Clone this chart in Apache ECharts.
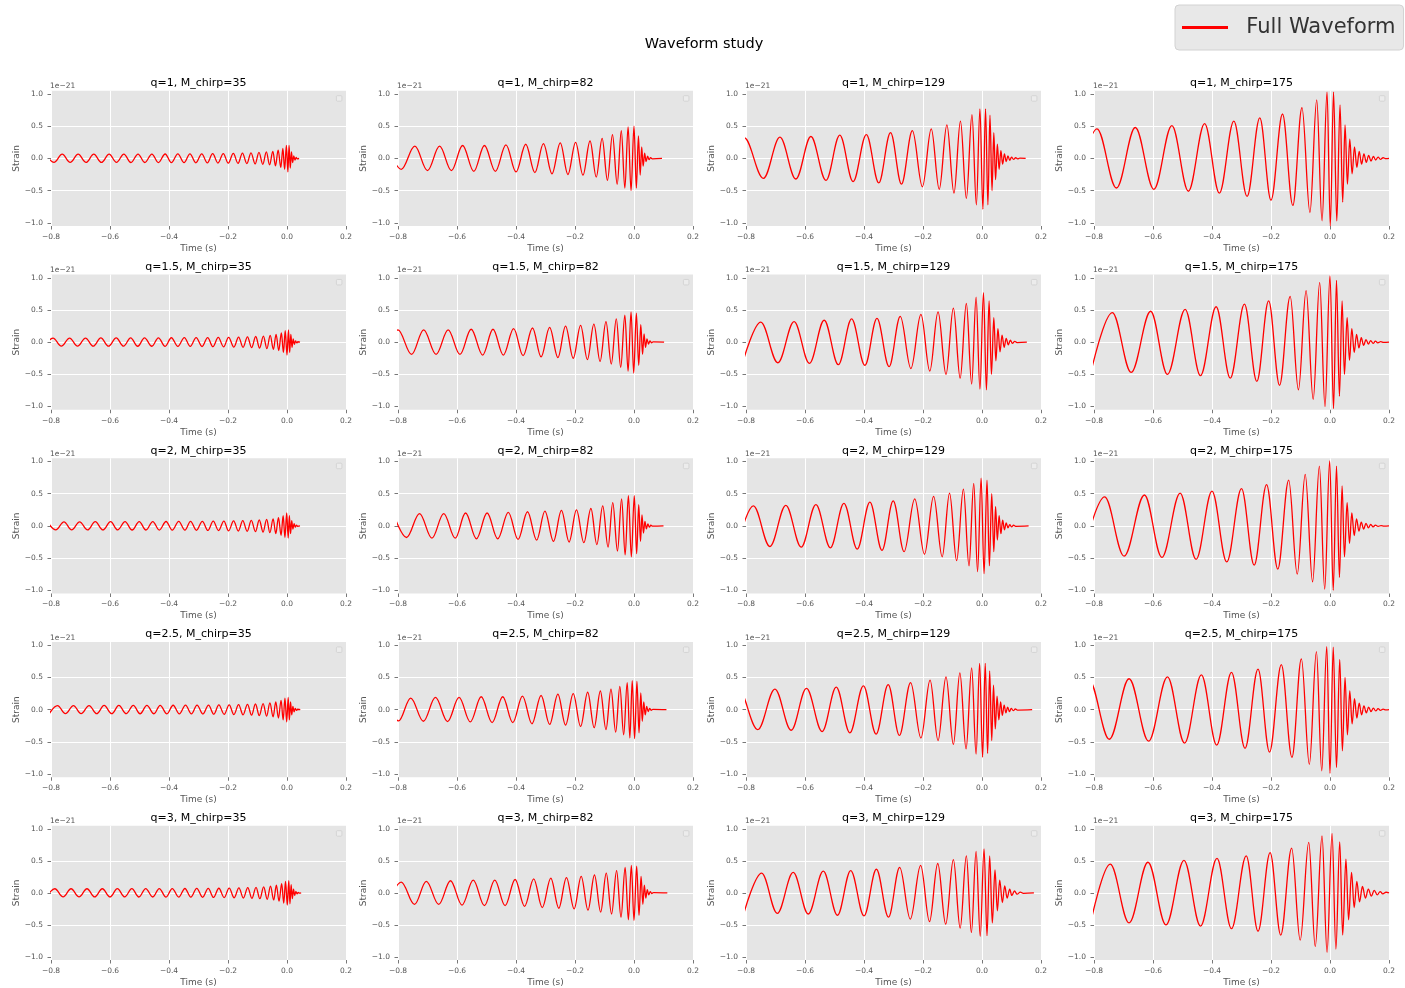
<!DOCTYPE html>
<html><head><meta charset="utf-8">
<script src="https://cdn.jsdelivr.net/npm/echarts@6/dist/echarts.min.js"></script>
<style>html,body{margin:0;padding:0;background:#fff}#c{width:1405px;height:988px}</style>
</head><body><div id="c"></div>
<script>
const qValues = ['1', '1.5', '2', '2.5', '3'];
const mChirps = ['35', '82', '129', '175'];
const xTicks = [-0.8, -0.6, -0.4, -0.2, 0.0, 0.2];
const yTicks = [-1.0, -0.5, 0.0, 0.5, 1.0];

// waveform extrema: [time (s), strain (1e-21)]
const w_q1_m35 = [[-0.818,0.065],[-0.790,-0.062],[-0.762,0.065],[-0.735,-0.062],[-0.708,0.065],[-0.681,-0.062],[-0.655,0.065],[-0.629,-0.063],[-0.603,0.066],[-0.578,-0.063],[-0.553,0.066],[-0.529,-0.064],[-0.505,0.067],[-0.482,-0.064],[-0.458,0.067],[-0.436,-0.065],[-0.413,0.068],[-0.392,-0.066],[-0.370,0.069],[-0.349,-0.067],[-0.329,0.070],[-0.309,-0.068],[-0.289,0.071],[-0.270,-0.070],[-0.252,0.073],[-0.234,-0.072],[-0.216,0.075],[-0.199,-0.074],[-0.182,0.078],[-0.166,-0.077],[-0.151,0.082],[-0.136,-0.081],[-0.122,0.087],[-0.108,-0.086],[-0.095,0.093],[-0.082,-0.093],[-0.070,0.10],[-0.059,-0.10],[-0.048,0.11],[-0.039,-0.115],[-0.030,0.13],[-0.021,-0.14],[-0.014,0.155],[-0.008,-0.17],[-0.002,0.20],[0.003,-0.21],[0.007,0.20],[0.011,-0.15],[0.015,0.10],[0.019,-0.065],[0.023,0.04],[0.027,-0.025],[0.031,0.015],[0.035,-0.008],[0.041,0]];
const w_q15_m35 = [[-0.821,-0.062],[-0.793,0.064],[-0.765,-0.062],[-0.737,0.064],[-0.710,-0.062],[-0.683,0.064],[-0.657,-0.063],[-0.631,0.065],[-0.605,-0.063],[-0.579,0.065],[-0.554,-0.063],[-0.530,0.066],[-0.506,-0.064],[-0.483,0.066],[-0.458,-0.064],[-0.436,0.067],[-0.413,-0.065],[-0.392,0.068],[-0.370,-0.066],[-0.348,0.069],[-0.328,-0.067],[-0.308,0.070],[-0.288,-0.069],[-0.269,0.071],[-0.251,-0.071],[-0.233,0.073],[-0.215,-0.073],[-0.198,0.075],[-0.180,-0.076],[-0.164,0.079],[-0.149,-0.080],[-0.134,0.083],[-0.120,-0.085],[-0.106,0.088],[-0.093,-0.091],[-0.080,0.095],[-0.068,-0.10],[-0.057,0.105],[-0.046,-0.11],[-0.037,0.12],[-0.028,-0.13],[-0.019,0.145],[-0.012,-0.16],[-0.006,0.18],[0.000,-0.20],[0.005,0.19],[0.009,-0.16],[0.013,0.12],[0.017,-0.08],[0.021,0.05],[0.025,-0.035],[0.029,0.02],[0.033,-0.012],[0.037,0.006],[0.044,0]];
const w_q2_m35 = [[-0.812,0.064],[-0.784,-0.062],[-0.756,0.064],[-0.730,-0.062],[-0.703,0.064],[-0.676,-0.062],[-0.650,0.065],[-0.624,-0.063],[-0.598,0.065],[-0.574,-0.063],[-0.549,0.066],[-0.525,-0.064],[-0.501,0.066],[-0.478,-0.064],[-0.455,0.067],[-0.433,-0.065],[-0.410,0.068],[-0.389,-0.066],[-0.367,0.069],[-0.346,-0.067],[-0.327,0.070],[-0.307,-0.069],[-0.287,0.071],[-0.268,-0.071],[-0.250,0.073],[-0.232,-0.073],[-0.214,0.075],[-0.198,-0.076],[-0.181,0.078],[-0.165,-0.079],[-0.150,0.082],[-0.135,-0.083],[-0.121,0.086],[-0.107,-0.088],[-0.094,0.092],[-0.081,-0.095],[-0.069,0.10],[-0.058,-0.105],[-0.047,0.11],[-0.038,-0.12],[-0.029,0.13],[-0.020,-0.145],[-0.013,0.16],[-0.007,-0.18],[-0.001,0.20],[0.004,-0.19],[0.008,0.16],[0.012,-0.12],[0.016,0.08],[0.020,-0.05],[0.024,0.035],[0.028,-0.02],[0.032,0.012],[0.036,-0.006],[0.044,0]];
const w_q25_m35 = [[-0.806,-0.062],[-0.778,0.064],[-0.751,-0.062],[-0.724,0.064],[-0.698,-0.062],[-0.671,0.064],[-0.645,-0.063],[-0.620,0.065],[-0.594,-0.063],[-0.570,0.065],[-0.545,-0.063],[-0.521,0.066],[-0.498,-0.064],[-0.475,0.066],[-0.451,-0.064],[-0.430,0.067],[-0.407,-0.065],[-0.386,0.068],[-0.365,-0.066],[-0.344,0.069],[-0.324,-0.067],[-0.305,0.070],[-0.285,-0.069],[-0.266,0.071],[-0.248,-0.071],[-0.231,0.073],[-0.213,-0.073],[-0.196,0.075],[-0.180,-0.076],[-0.164,0.078],[-0.149,-0.080],[-0.134,0.082],[-0.120,-0.085],[-0.107,0.088],[-0.094,-0.091],[-0.081,0.095],[-0.069,-0.10],[-0.058,0.105],[-0.047,-0.11],[-0.038,0.12],[-0.029,-0.13],[-0.020,0.145],[-0.013,-0.16],[-0.007,0.18],[-0.001,-0.19],[0.004,0.19],[0.008,-0.16],[0.012,0.12],[0.016,-0.08],[0.020,0.05],[0.024,-0.035],[0.028,0.02],[0.032,-0.012],[0.036,0.006],[0.045,0]];
const w_q3_m35 = [[-0.815,-0.062],[-0.787,0.065],[-0.759,-0.062],[-0.732,0.065],[-0.705,-0.062],[-0.678,0.065],[-0.652,-0.063],[-0.626,0.065],[-0.600,-0.063],[-0.575,0.066],[-0.550,-0.063],[-0.526,0.066],[-0.502,-0.064],[-0.479,0.067],[-0.455,-0.064],[-0.433,0.067],[-0.410,-0.065],[-0.389,0.068],[-0.367,-0.066],[-0.346,0.069],[-0.326,-0.067],[-0.306,0.070],[-0.286,-0.069],[-0.267,0.071],[-0.249,-0.071],[-0.231,0.073],[-0.213,-0.073],[-0.196,0.075],[-0.179,-0.076],[-0.163,0.079],[-0.148,-0.080],[-0.133,0.083],[-0.119,-0.085],[-0.105,0.088],[-0.092,-0.091],[-0.079,0.095],[-0.067,-0.10],[-0.056,0.105],[-0.045,-0.11],[-0.036,0.12],[-0.027,-0.13],[-0.018,0.145],[-0.011,-0.16],[-0.005,0.18],[0.001,-0.19],[0.006,0.19],[0.010,-0.17],[0.014,0.13],[0.018,-0.09],[0.022,0.06],[0.026,-0.04],[0.030,0.025],[0.034,-0.015],[0.038,0.008],[0.042,-0.004],[0.048,0]];
const w_q1_m82 = [[-0.835,0.18],[-0.789,-0.17],[-0.743,0.19],[-0.700,-0.19],[-0.659,0.19],[-0.619,-0.19],[-0.581,0.20],[-0.543,-0.20],[-0.507,0.20],[-0.470,-0.20],[-0.434,0.21],[-0.400,-0.21],[-0.367,0.22],[-0.336,-0.22],[-0.307,0.23],[-0.278,-0.24],[-0.250,0.24],[-0.224,-0.25],[-0.198,0.25],[-0.173,-0.26],[-0.149,0.27],[-0.128,-0.29],[-0.108,0.31],[-0.090,-0.34],[-0.073,0.37],[-0.057,-0.40],[-0.043,0.43],[-0.031,-0.46],[-0.020,0.49],[-0.010,-0.50],[0.000,0.50],[0.008,-0.46],[0.015,0.35],[0.021,-0.26],[0.026,0.18],[0.031,-0.12],[0.036,0.08],[0.041,-0.05],[0.046,0.035],[0.051,-0.02],[0.056,0.012],[0.062,-0.006],[0.095,0]];
const w_q15_m82 = [[-0.846,-0.17],[-0.800,0.19],[-0.754,-0.19],[-0.713,0.19],[-0.671,-0.19],[-0.630,0.19],[-0.590,-0.19],[-0.552,0.20],[-0.513,-0.20],[-0.478,0.20],[-0.443,-0.20],[-0.408,0.21],[-0.376,-0.21],[-0.344,0.22],[-0.315,-0.23],[-0.286,0.23],[-0.258,-0.24],[-0.232,0.25],[-0.206,-0.25],[-0.181,0.26],[-0.158,-0.27],[-0.136,0.28],[-0.115,-0.30],[-0.095,0.32],[-0.077,-0.34],[-0.060,0.36],[-0.045,-0.39],[-0.031,0.42],[-0.020,-0.45],[-0.010,0.47],[-0.001,-0.48],[0.008,0.45],[0.016,-0.36],[0.023,0.27],[0.029,-0.19],[0.034,0.13],[0.039,-0.08],[0.044,0.05],[0.049,-0.03],[0.054,0.02],[0.059,-0.01],[0.065,0.005],[0.102,0]];
const w_q2_m82 = [[-0.815,0.18],[-0.771,-0.18],[-0.727,0.19],[-0.685,-0.19],[-0.645,0.19],[-0.606,-0.19],[-0.571,0.20],[-0.534,-0.20],[-0.498,0.20],[-0.462,-0.20],[-0.426,0.21],[-0.393,-0.21],[-0.361,0.22],[-0.330,-0.22],[-0.302,0.23],[-0.273,-0.24],[-0.246,0.24],[-0.220,-0.25],[-0.195,0.25],[-0.170,-0.26],[-0.146,0.27],[-0.126,-0.29],[-0.106,0.31],[-0.088,-0.33],[-0.072,0.36],[-0.056,-0.39],[-0.042,0.42],[-0.030,-0.45],[-0.019,0.47],[-0.009,-0.48],[0.001,0.47],[0.009,-0.43],[0.016,0.33],[0.022,-0.24],[0.027,0.17],[0.032,-0.11],[0.037,0.07],[0.042,-0.045],[0.047,0.03],[0.052,-0.02],[0.057,0.01],[0.063,-0.005],[0.100,0]];
const w_q25_m82 = [[-0.840,0.17],[-0.798,-0.175],[-0.757,0.18],[-0.714,-0.18],[-0.673,0.19],[-0.632,-0.185],[-0.593,0.19],[-0.555,-0.19],[-0.518,0.20],[-0.481,-0.20],[-0.445,0.20],[-0.411,-0.20],[-0.378,0.21],[-0.346,-0.22],[-0.315,0.22],[-0.286,-0.23],[-0.258,0.24],[-0.232,-0.24],[-0.206,0.25],[-0.181,-0.26],[-0.157,0.27],[-0.135,-0.28],[-0.114,0.29],[-0.095,-0.31],[-0.078,0.32],[-0.062,-0.35],[-0.048,0.36],[-0.035,-0.39],[-0.023,0.42],[-0.014,-0.44],[-0.006,0.45],[0.002,-0.45],[0.010,0.44],[0.017,-0.36],[0.023,0.26],[0.028,-0.18],[0.033,0.12],[0.038,-0.08],[0.043,0.05],[0.048,-0.03],[0.053,0.02],[0.058,-0.01],[0.064,0.005],[0.110,0]];
const w_q3_m82 = [[-0.835,-0.16],[-0.789,0.17],[-0.744,-0.18],[-0.704,0.18],[-0.662,-0.18],[-0.622,0.19],[-0.583,-0.19],[-0.545,0.20],[-0.507,-0.20],[-0.472,0.20],[-0.437,-0.20],[-0.403,0.21],[-0.371,-0.21],[-0.340,0.22],[-0.311,-0.23],[-0.282,0.23],[-0.255,-0.24],[-0.229,0.24],[-0.203,-0.25],[-0.179,0.26],[-0.156,-0.27],[-0.134,0.28],[-0.113,-0.30],[-0.094,0.31],[-0.076,-0.33],[-0.059,0.35],[-0.044,-0.38],[-0.030,0.40],[-0.019,-0.42],[-0.009,0.43],[0.000,-0.43],[0.009,0.42],[0.017,-0.35],[0.024,0.26],[0.030,-0.18],[0.035,0.12],[0.040,-0.08],[0.045,0.05],[0.050,-0.03],[0.055,0.02],[0.060,-0.01],[0.066,0.005],[0.113,0]];
const w_q1_m129 = [[-0.862,-0.30],[-0.806,0.32],[-0.741,-0.31],[-0.685,0.33],[-0.631,-0.32],[-0.580,0.34],[-0.529,-0.34],[-0.482,0.36],[-0.437,-0.36],[-0.392,0.37],[-0.350,-0.38],[-0.310,0.40],[-0.273,-0.40],[-0.236,0.43],[-0.202,-0.44],[-0.172,0.46],[-0.145,-0.48],[-0.119,0.52],[-0.095,-0.54],[-0.073,0.58],[-0.053,-0.62],[-0.034,0.68],[-0.019,-0.72],[-0.007,0.77],[0.003,-0.79],[0.012,0.77],[0.020,-0.72],[0.027,0.67],[0.034,-0.50],[0.040,0.40],[0.046,-0.33],[0.052,0.22],[0.058,-0.17],[0.064,0.12],[0.070,-0.09],[0.076,0.07],[0.082,-0.05],[0.088,0.04],[0.094,-0.03],[0.100,0.02],[0.107,-0.015],[0.114,0.01],[0.121,-0.008],[0.128,0.005],[0.148,0]];
const w_q15_m129 = [[-0.810,-0.30],[-0.750,0.31],[-0.692,-0.32],[-0.637,0.32],[-0.585,-0.33],[-0.535,0.34],[-0.487,-0.35],[-0.442,0.36],[-0.397,-0.36],[-0.356,0.37],[-0.315,-0.38],[-0.277,0.40],[-0.241,-0.41],[-0.207,0.43],[-0.177,-0.45],[-0.149,0.47],[-0.122,-0.50],[-0.097,0.53],[-0.074,-0.56],[-0.053,0.60],[-0.035,-0.65],[-0.020,0.70],[-0.007,-0.73],[0.005,0.77],[0.015,-0.74],[0.024,0.64],[0.032,-0.50],[0.040,0.38],[0.047,-0.29],[0.054,0.21],[0.061,-0.15],[0.068,0.11],[0.075,-0.08],[0.082,0.06],[0.089,-0.04],[0.096,0.03],[0.103,-0.02],[0.111,0.012],[0.119,-0.006],[0.152,0]];
const w_q2_m129 = [[-0.830,-0.31],[-0.775,0.31],[-0.719,-0.32],[-0.665,0.32],[-0.613,-0.33],[-0.563,0.33],[-0.514,-0.34],[-0.468,0.35],[-0.423,-0.36],[-0.380,0.37],[-0.339,-0.38],[-0.301,0.39],[-0.264,-0.40],[-0.228,0.42],[-0.195,-0.44],[-0.164,0.46],[-0.135,-0.48],[-0.110,0.51],[-0.086,-0.54],[-0.063,0.57],[-0.044,-0.62],[-0.028,0.66],[-0.015,-0.71],[-0.003,0.74],[0.007,-0.74],[0.017,0.71],[0.025,-0.62],[0.033,0.50],[0.040,-0.40],[0.046,0.30],[0.052,-0.22],[0.058,0.16],[0.064,-0.12],[0.070,0.09],[0.076,-0.06],[0.082,0.045],[0.088,-0.03],[0.094,0.02],[0.100,-0.015],[0.107,0.01],[0.114,-0.006],[0.158,0]];
const w_q25_m129 = [[-0.884,-0.30],[-0.826,0.32],[-0.760,-0.31],[-0.702,0.32],[-0.647,-0.32],[-0.595,0.33],[-0.542,-0.34],[-0.494,0.35],[-0.448,-0.36],[-0.402,0.37],[-0.359,-0.38],[-0.318,0.39],[-0.280,-0.40],[-0.242,0.42],[-0.207,-0.44],[-0.176,0.46],[-0.149,-0.48],[-0.122,0.51],[-0.097,-0.54],[-0.075,0.57],[-0.054,-0.61],[-0.035,0.65],[-0.020,-0.69],[-0.008,0.72],[0.002,-0.74],[0.011,0.72],[0.019,-0.68],[0.026,0.60],[0.033,-0.48],[0.039,0.38],[0.045,-0.30],[0.051,0.21],[0.057,-0.16],[0.063,0.12],[0.069,-0.09],[0.075,0.07],[0.081,-0.05],[0.087,0.04],[0.093,-0.03],[0.099,0.02],[0.106,-0.015],[0.113,0.01],[0.120,-0.006],[0.170,0]];
const w_q3_m129 = [[-0.806,-0.30],[-0.747,0.31],[-0.694,-0.32],[-0.640,0.32],[-0.589,-0.33],[-0.538,0.34],[-0.490,-0.35],[-0.445,0.35],[-0.400,-0.36],[-0.358,0.37],[-0.317,-0.38],[-0.279,0.40],[-0.243,-0.41],[-0.208,0.43],[-0.178,-0.45],[-0.150,0.46],[-0.123,-0.49],[-0.097,0.52],[-0.074,-0.55],[-0.053,0.58],[-0.036,-0.62],[-0.020,0.65],[-0.006,-0.68],[0.007,0.69],[0.017,-0.67],[0.026,0.58],[0.035,-0.47],[0.044,0.36],[0.052,-0.28],[0.060,0.20],[0.069,-0.15],[0.077,0.11],[0.085,-0.08],[0.094,0.06],[0.101,-0.04],[0.110,0.03],[0.119,-0.02],[0.130,0.012],[0.140,-0.006],[0.176,0]];
const w_q1_m175 = [[-0.857,-0.45],[-0.790,0.46],[-0.724,-0.46],[-0.660,0.48],[-0.597,-0.48],[-0.536,0.51],[-0.480,-0.51],[-0.425,0.54],[-0.375,-0.54],[-0.326,0.58],[-0.281,-0.59],[-0.238,0.63],[-0.200,-0.65],[-0.161,0.69],[-0.126,-0.73],[-0.095,0.79],[-0.068,-0.84],[-0.045,0.91],[-0.027,-0.97],[-0.010,1.03],[0.001,-1.05],[0.012,1.03],[0.023,-0.97],[0.034,0.83],[0.043,-0.68],[0.051,0.52],[0.059,-0.40],[0.067,0.30],[0.075,-0.24],[0.083,0.18],[0.091,-0.14],[0.099,0.11],[0.107,-0.09],[0.115,0.07],[0.123,-0.06],[0.131,0.045],[0.139,-0.04],[0.147,0.03],[0.155,-0.025],[0.163,0.02],[0.171,-0.015],[0.180,0.01],[0.190,-0.005],[0.200,0]];
const w_q15_m175 = [[-0.810,-0.46],[-0.738,0.46],[-0.674,-0.47],[-0.608,0.48],[-0.551,-0.50],[-0.491,0.51],[-0.439,-0.52],[-0.386,0.55],[-0.338,-0.56],[-0.290,0.59],[-0.248,-0.61],[-0.208,0.64],[-0.171,-0.67],[-0.135,0.71],[-0.107,-0.74],[-0.081,0.80],[-0.057,-0.89],[-0.035,0.93],[-0.017,-1.0],[0.000,1.03],[0.012,-1.03],[0.022,0.96],[0.032,-0.84],[0.041,0.64],[0.049,-0.50],[0.058,0.38],[0.066,-0.28],[0.074,0.21],[0.082,-0.16],[0.090,0.12],[0.098,-0.09],[0.106,0.07],[0.114,-0.05],[0.122,0.04],[0.130,-0.03],[0.138,0.025],[0.146,-0.02],[0.154,0.015],[0.162,-0.01],[0.172,0.007],[0.182,-0.004],[0.200,0]];
const w_q2_m175 = [[-0.838,-0.45],[-0.764,0.45],[-0.698,-0.47],[-0.629,0.48],[-0.570,-0.49],[-0.508,0.51],[-0.454,-0.52],[-0.400,0.54],[-0.350,-0.56],[-0.300,0.58],[-0.257,-0.61],[-0.215,0.64],[-0.177,-0.67],[-0.140,0.71],[-0.111,-0.75],[-0.084,0.80],[-0.059,-0.87],[-0.036,0.93],[-0.018,-0.98],[-0.001,1.01],[0.011,-1.0],[0.022,0.93],[0.032,-0.80],[0.041,0.62],[0.049,-0.48],[0.058,0.36],[0.066,-0.27],[0.074,0.20],[0.082,-0.15],[0.090,0.11],[0.098,-0.08],[0.106,0.06],[0.114,-0.05],[0.122,0.04],[0.130,-0.03],[0.138,0.022],[0.146,-0.016],[0.154,0.012],[0.163,-0.008],[0.173,0.005],[0.183,-0.003],[0.200,0]];
const w_q25_m175 = [[-0.885,-0.45],[-0.817,0.46],[-0.748,-0.46],[-0.681,0.48],[-0.615,-0.49],[-0.551,0.51],[-0.493,-0.52],[-0.436,0.54],[-0.384,-0.55],[-0.334,0.58],[-0.288,-0.60],[-0.244,0.63],[-0.205,-0.66],[-0.165,0.70],[-0.129,-0.74],[-0.097,0.79],[-0.070,-0.85],[-0.046,0.90],[-0.028,-0.95],[-0.011,0.98],[0.000,-0.99],[0.011,0.97],[0.022,-0.90],[0.033,0.78],[0.042,-0.64],[0.051,0.50],[0.059,-0.39],[0.067,0.29],[0.075,-0.22],[0.083,0.17],[0.091,-0.13],[0.099,0.10],[0.107,-0.08],[0.115,0.06],[0.123,-0.05],[0.131,0.04],[0.139,-0.03],[0.147,0.025],[0.155,-0.02],[0.163,0.015],[0.171,-0.01],[0.180,0.007],[0.190,-0.004],[0.200,0]];
const w_q3_m175 = [[-0.810,-0.44],[-0.745,0.45],[-0.681,-0.47],[-0.617,0.48],[-0.556,-0.50],[-0.495,0.51],[-0.439,-0.52],[-0.383,0.54],[-0.334,-0.56],[-0.284,0.58],[-0.244,-0.60],[-0.203,0.63],[-0.167,-0.66],[-0.130,0.70],[-0.101,-0.74],[-0.072,0.79],[-0.050,-0.84],[-0.027,0.89],[-0.010,-0.93],[0.007,0.93],[0.020,-0.88],[0.033,0.80],[0.043,-0.66],[0.054,0.53],[0.063,-0.42],[0.073,0.32],[0.082,-0.23],[0.091,0.18],[0.100,-0.14],[0.110,0.10],[0.120,-0.08],[0.130,0.06],[0.140,-0.05],[0.150,0.04],[0.160,-0.03],[0.170,0.02],[0.179,-0.015],[0.190,0.01],[0.200,0]];

const waves = [
  [w_q1_m35, w_q1_m82, w_q1_m129, w_q1_m175],
  [w_q15_m35, w_q15_m82, w_q15_m129, w_q15_m175],
  [w_q2_m35, w_q2_m82, w_q2_m129, w_q2_m175],
  [w_q25_m35, w_q25_m82, w_q25_m129, w_q25_m175],
  [w_q3_m35, w_q3_m82, w_q3_m129, w_q3_m175]
];

const FONT = 'DejaVu Sans';
const colLeft = [51, 398, 746, 1094];
const plotW = 295, plotH = 135.2, rowTop0 = 90.8, rowPitch = 183.75;
const fmt = v => (v < -1e-9 ? '\u2212' : '') + Math.abs(v).toFixed(1);

const grids = [], xAxes = [], yAxes = [], series = [], graphics = [];
const titles = [{
  text: 'Waveform study', left: 704, top: 37, textAlign: 'center', padding: 0,
  textStyle: { fontFamily: FONT, fontSize: 14.5, fontWeight: 'normal', color: '#000' }
}];

for (let r = 0; r < 5; r++) {
  for (let c = 0; c < 4; c++) {
    const idx = r * 4 + c;
    const left = colLeft[c];
    const top = rowTop0 + r * rowPitch;
    grids.push({ left: left, top: top, width: plotW, height: plotH, show: true,
      backgroundColor: '#E5E5E5', borderWidth: 0 });
    xAxes.push({
      gridIndex: idx, type: 'value', min: xTicks[0], max: xTicks[xTicks.length - 1], interval: 0.2,
      name: 'Time (s)', nameLocation: 'middle', nameGap: 18,
      nameTextStyle: { fontFamily: FONT, fontSize: 9, color: '#555' },
      axisLine: { show: false, onZero: false },
      axisTick: { show: true, length: 3.5, lineStyle: { color: '#555', width: 0.8 } },
      axisLabel: { fontFamily: FONT, fontSize: 7.5, color: '#555', margin: 7, formatter: fmt },
      splitLine: { show: true, lineStyle: { color: '#fff', width: 1 } }
    });
    yAxes.push({
      gridIndex: idx, type: 'value', min: -1.05, max: 1.05, splitNumber: 4,
      name: 'Strain', nameLocation: 'middle', nameGap: 29, nameRotate: 90,
      nameTextStyle: { fontFamily: FONT, fontSize: 9, color: '#555' },
      axisLine: { show: false, onZero: false },
      axisTick: { show: true, length: 3.5, customValues: yTicks, lineStyle: { color: '#555', width: 0.8 } },
      axisLabel: { fontFamily: FONT, fontSize: 7.5, color: '#555', margin: 8, customValues: yTicks, formatter: fmt },
      splitLine: { show: true, showMinLine: false, showMaxLine: false, lineStyle: { color: '#fff', width: 1 } }
    });
    titles.push({
      text: 'q=' + qValues[r] + ', M_chirp=' + mChirps[c], left: left + plotW / 2, top: top - 13,
      textAlign: 'center', padding: 0,
      textStyle: { fontFamily: FONT, fontSize: 11, fontWeight: 'normal', color: '#000' }
    });
    titles.push({
      text: '1e\u221221', left: left - 1, top: top - 8.5, padding: 0,
      textStyle: { fontFamily: FONT, fontSize: 7.5, fontWeight: 'normal', color: '#555' }
    });
    // empty per-axes legend frame (decoration in the top-right corner of each panel)
    graphics.push({
      type: 'rect', left: left + plotW - 10, top: top + 4.5, silent: true, z: 10,
      shape: { width: 5.5, height: 5.5, r: 1 },
      style: { fill: '#ECECEC', stroke: '#cfcfcf', lineWidth: 0.8 }
    });
    series.push({
      type: 'line', name: 'Full Waveform', xAxisIndex: idx, yAxisIndex: idx,
      data: waves[r][c], symbol: 'none', showSymbol: false,
      smooth: 0.36, smoothMonotone: 'x', clip: true, silent: true,
      lineStyle: { color: '#ff0000', width: 1.3 }, itemStyle: { color: '#ff0000' }
    });
  }
}

const chart = echarts.init(document.getElementById('c'), null, { renderer: 'canvas' });
chart.setOption({
  animation: false,
  backgroundColor: '#ffffff',
  title: titles,
  legend: {
    data: ['Full Waveform'], left: 1175, top: 5, icon: 'rect', itemWidth: 46, itemHeight: 3,
    padding: [12, 8, 12, 7], backgroundColor: '#E8E8E8', borderColor: '#d2d2d2', borderWidth: 1, borderRadius: 4,
    formatter: () => '  Full Waveform',
    textStyle: { fontFamily: FONT, fontSize: 21, color: '#333' }
  },
  graphic: graphics,
  grid: grids, xAxis: xAxes, yAxis: yAxes, series: series
});
</script></body></html>
